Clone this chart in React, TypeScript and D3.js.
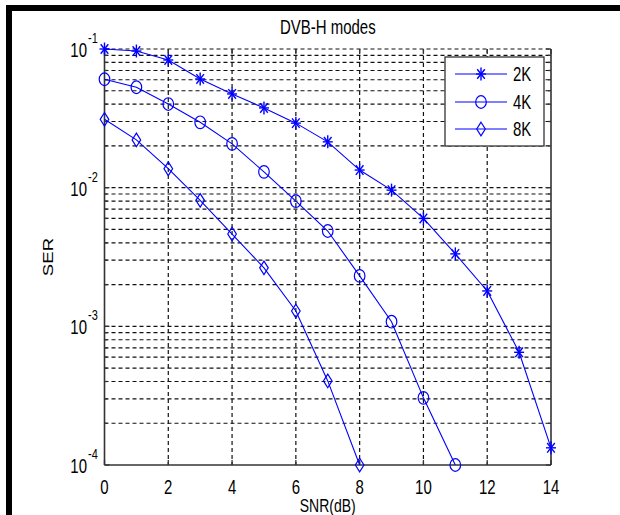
import React from "react";
import * as d3 from "d3";

const snr = [0, 1, 2, 3, 4, 5, 6, 7, 8, 9, 10, 11, 12, 13, 14];
const ser2K = [0.1, 0.0967, 0.0833, 0.0608, 0.0474, 0.0376, 0.0292, 0.0214, 0.0134, 0.0096, 0.006, 0.00333, 0.0018, 0.00065, 0.000133];
const ser4K = [0.0605, 0.053, 0.0401, 0.0296, 0.0207, 0.013, 0.008, 0.00487, 0.00231, 0.00108, 0.000305, 0.0001];
const ser8K = [0.0311, 0.0221, 0.0137, 0.0081, 0.00463, 0.00264, 0.00129, 0.000404, 0.0001];
const seriesNames = ["2K", "4K", "8K"];
const xTicks = [0, 2, 4, 6, 8, 10, 12, 14];
const yDecades = [-4, -3, -2, -1];

const W = 620;
const H = 515;
const SY = 1.33;
const FONT = "'Liberation Sans', Arial, Helvetica, sans-serif";
const BLUE = "#0000ff";

const x = d3.scaleLinear().domain([0, 14]).range([104.5, 551]);
const y = d3.scaleLog().domain([1e-4, 1e-1]).range([465, 49]);

type Pt = { x: number; y: number };

function Marker({ kind, cx, cy }: { kind: string; cx: number; cy: number }) {
  if (kind === "2K") {
    return (
      <g stroke={BLUE} strokeWidth={1.4} fill="none">
        <line x1={cx - 5} y1={cy} x2={cx + 5} y2={cy} />
        <line x1={cx} y1={cy - 6.5} x2={cx} y2={cy + 6.5} />
        <line x1={cx - 3.8} y1={cy - 4.8} x2={cx + 3.8} y2={cy + 4.8} />
        <line x1={cx - 3.8} y1={cy + 4.8} x2={cx + 3.8} y2={cy - 4.8} />
      </g>
    );
  }
  if (kind === "4K") {
    return <ellipse cx={cx} cy={cy} rx={5.3} ry={6.3} stroke={BLUE} strokeWidth={1.2} fill="none" />;
  }
  return (
    <path
      d={`M${cx},${cy - 6.8}L${cx + 4.3},${cy}L${cx},${cy + 6.8}L${cx - 4.3},${cy}Z`}
      stroke={BLUE}
      strokeWidth={1.2}
      fill="none"
    />
  );
}

function SText({
  tx,
  ty,
  size,
  anchor,
  children,
}: {
  tx: number;
  ty: number;
  size: number;
  anchor?: string;
  children: React.ReactNode;
}) {
  return (
    <text
      transform={`translate(${tx},${ty}) scale(1,${SY})`}
      fontSize={size}
      fontFamily={FONT}
      textAnchor={anchor || "start"}
      fill="#000"
    >
      {children}
    </text>
  );
}

export default function App() {
  const [x0, x1] = x.range();
  const [yb, yt] = y.range();

  const series = [
    { name: seriesNames[0], values: ser2K },
    { name: seriesNames[1], values: ser4K },
    { name: seriesNames[2], values: ser8K },
  ];

  const line = d3
    .line<Pt>()
    .x((d) => d.x)
    .y((d) => d.y);

  // log grid values: every mantissa 1..9 within each decade
  const gridVals: number[] = [];
  const minorVals: number[] = [];
  yDecades.forEach((dec) => {
    for (let m = 1; m <= 9; m++) {
      const v = m * Math.pow(10, dec);
      if (v > 0.1 + 1e-12) break;
      if (v > 1e-4 * 1.0001) gridVals.push(v);
      if (m !== 1) minorVals.push(v);
    }
  });

  const legendX = 445;
  const legendY = 57;
  const legendW = 99;
  const legendH = 89;
  const rowY = [74, 102, 129];

  return (
    <svg
      width={W}
      height={H}
      style={{ position: "absolute", left: 0, top: 0, background: "#fff" }}
    >
      <rect x={0} y={0} width={W} height={H} fill="#fff" />
      {/* frame bars */}
      <rect x={6} y={5} width={W - 6} height={6} fill="#000" />
      <rect x={6} y={5} width={6} height={H - 5} fill="#000" />

      {/* title */}
      <SText tx={(x0 + x1) / 2} ty={34} size={15} anchor="middle">
        DVB-H modes
      </SText>

      {/* grid */}
      <g stroke="#111" strokeWidth={1.2} strokeDasharray="4,3" fill="none">
        {gridVals.map((v, i) => (
          <line key={"h" + i} x1={x0} x2={x1} y1={y(v)} y2={y(v)} />
        ))}
        {xTicks
          .filter((t) => t !== 0 && t !== 14)
          .map((t) => (
            <line key={"v" + t} x1={x(t)} x2={x(t)} y1={yt} y2={yb} />
          ))}
      </g>

      {/* axes box */}
      <g stroke="#333" strokeWidth={1.6} fill="none">
        <line x1={x0} x2={x0} y1={yt} y2={yb} />
        <line x1={x1} x2={x1} y1={yt} y2={yb} />
        <line x1={x0} x2={x1} y1={yb} y2={yb} />
      </g>

      {/* ticks */}
      <g stroke="#333" strokeWidth={1.3}>
        {xTicks.map((t) => (
          <g key={"xt" + t}>
            <line x1={x(t)} x2={x(t)} y1={yb} y2={yb - 5} />
            <line x1={x(t)} x2={x(t)} y1={yt} y2={yt + 5} />
          </g>
        ))}
        {yDecades.map((d) => (
          <g key={"ymaj" + d}>
            <line x1={x0} x2={x0 + 5} y1={y(Math.pow(10, d))} y2={y(Math.pow(10, d))} />
            <line x1={x1} x2={x1 - 5} y1={y(Math.pow(10, d))} y2={y(Math.pow(10, d))} />
          </g>
        ))}
        {minorVals.map((v, i) => (
          <g key={"ymin" + i}>
            <line x1={x0} x2={x0 + 3} y1={y(v)} y2={y(v)} />
            <line x1={x1} x2={x1 - 3} y1={y(v)} y2={y(v)} />
          </g>
        ))}
      </g>

      {/* x tick labels */}
      {xTicks.map((t) => (
        <SText key={"xl" + t} tx={x(t)} ty={494} size={15} anchor="middle">
          {String(t)}
        </SText>
      ))}

      {/* y tick labels */}
      {yDecades.map((d) => {
        const ty = y(Math.pow(10, d));
        return (
          <g key={"yl" + d}>
            <SText tx={87} ty={ty + 8} size={15} anchor="end">
              10
            </SText>
            <SText tx={88} ty={ty - 6} size={11} anchor="start">
              {String(d)}
            </SText>
          </g>
        );
      })}

      {/* axis labels */}
      <SText tx={(x0 + x1) / 2} ty={512} size={14} anchor="middle">
        SNR(dB)
      </SText>
      <text
        transform={`translate(53,${(yt + yb) / 2}) rotate(-90) scale(${SY},1)`}
        fontSize={14}
        fontFamily={FONT}
        textAnchor="middle"
        fill="#000"
      >
        SER
      </text>

      {/* series */}
      {series.map((s) => {
        const pts: Pt[] = s.values.map((v, i) => ({ x: x(snr[i]), y: y(v) }));
        return (
          <g key={s.name}>
            <path d={line(pts) || ""} stroke={BLUE} strokeWidth={1.1} fill="none" />
            {pts.map((p, i) => (
              <Marker key={i} kind={s.name} cx={p.x} cy={p.y} />
            ))}
          </g>
        );
      })}

      {/* legend */}
      <rect
        x={legendX}
        y={legendY}
        width={legendW}
        height={legendH}
        fill="#fff"
        stroke="#333"
        strokeWidth={1.3}
      />
      {series.map((s, i) => (
        <g key={"lg" + s.name}>
          <line x1={455} x2={507} y1={rowY[i]} y2={rowY[i]} stroke={BLUE} strokeWidth={1.1} />
          <Marker kind={s.name} cx={481} cy={rowY[i]} />
          <SText tx={513} ty={rowY[i] + 7} size={15}>
            {s.name}
          </SText>
        </g>
      ))}
    </svg>
  );
}
